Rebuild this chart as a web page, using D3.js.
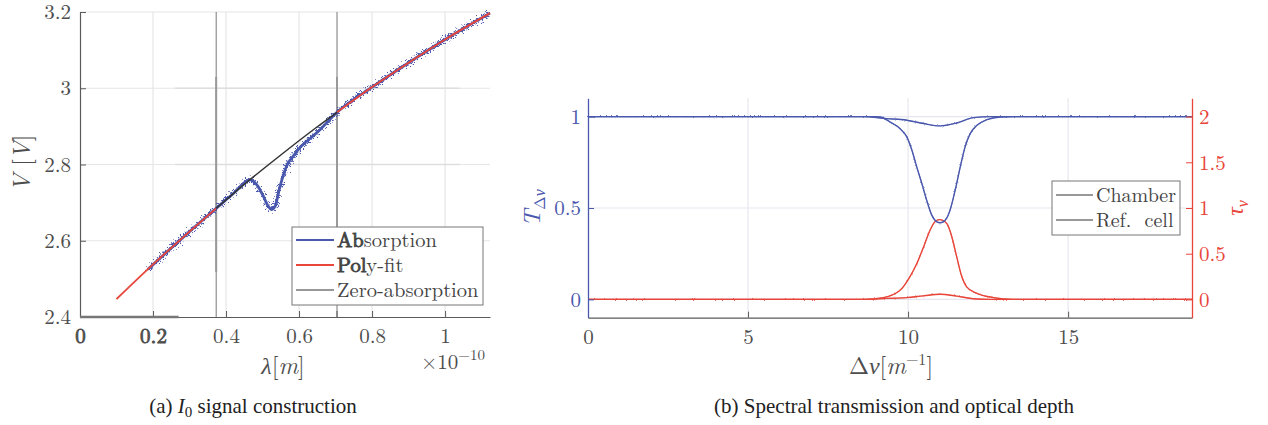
<!DOCTYPE html>
<html>
<head>
<meta charset="utf-8">
<style>
    body { margin: 0; background: #fff; }
    svg { font-family: 'Latin Modern Roman', 'Liberation Serif', serif; }
    .cap { font-family: 'Liberation Serif', 'Times New Roman', serif; }
</style>
</head>
<body>
<svg width="1268" height="425"></svg>

<script src="https://d3js.org/d3.v7.min.js"></script>
<script>
    // ---- panel (a): I0 signal construction ----
    // smooth polynomial fit
    let fitLambda = [0.10, 0.20, 0.30, 0.373, 0.45, 0.55, 0.65, 0.704, 0.80, 0.90, 1.00, 1.123]
    let fitV = [2.447, 2.538, 2.624, 2.685, 2.748, 2.825, 2.899, 2.937, 3.003, 3.067, 3.128, 3.197]

    // measured signal (blue), with the absorption dip
    let absLambda = [0.186, 0.25, 0.30, 0.373, 0.42, 0.466, 0.484, 0.502, 0.516, 0.525, 0.534, 0.548, 0.566, 0.584, 0.603, 0.63, 0.658, 0.704, 0.80, 0.90, 1.00, 1.123]
    let absV = [2.525, 2.581, 2.624, 2.685, 2.724, 2.760, 2.747, 2.717, 2.690, 2.682, 2.690, 2.743, 2.796, 2.822, 2.845, 2.868, 2.892, 2.937, 3.003, 3.067, 3.128, 3.197]

    // zero-absorption baseline between the two cut points
    let zeroLambda = [0.373, 0.45, 0.55, 0.65, 0.704]
    let zeroV = [2.685, 2.748, 2.825, 2.899, 2.937]

    let cutLambda = [0.373, 0.704]

    let leftXTicks = [0, 0.2, 0.4, 0.6, 0.8, 1]
    let leftXLabels = ["0", "0.2", "0.4", "0.6", "0.8", "1"]
    let leftYTicks = [2.4, 2.6, 2.8, 3, 3.2]
    let leftYLabels = ["2.4", "2.6", "2.8", "3", "3.2"]

    // ---- panel (b): spectral transmission and optical depth ----
    let chamberNu = [0, 8.5, 8.9, 9.125, 9.44, 9.75, 9.96, 10.12, 10.27, 10.43, 10.58, 10.74, 10.9, 11.0, 11.16, 11.31, 11.47, 11.63, 11.78, 11.94, 12.15, 12.46, 12.88, 13.3, 18.87]
    let chamberT = [1, 1, 1, 0.998, 0.97, 0.934, 0.889, 0.816, 0.725, 0.634, 0.543, 0.461, 0.424, 0.419, 0.433, 0.488, 0.597, 0.725, 0.834, 0.907, 0.952, 0.983, 0.998, 1, 1]

    let chamberTauNu = [0, 8.6, 9.23, 9.75, 10.06, 10.27, 10.48, 10.69, 10.84, 10.98, 11.21, 11.37, 11.52, 11.68, 11.83, 12.15, 12.67, 13.3, 18.87]
    let chamberTau = [0, 0, 0.02, 0.10, 0.25, 0.39, 0.57, 0.76, 0.85, 0.873, 0.83, 0.68, 0.465, 0.247, 0.137, 0.065, 0.02, 0, 0]

    let refNu = [0, 8.6, 9.33, 9.96, 10.48, 11.0, 11.52, 12.04, 12.6, 18.87]
    let refT = [1, 1, 0.989, 0.98, 0.962, 0.949, 0.965, 0.994, 1, 1]
    let refTau = [0, 0, 0.011, 0.02, 0.039, 0.056, 0.036, 0.008, 0, 0]

    let rightXTicks = [0, 5, 10, 15]
    let leftAxisTicks = [0, 0.5, 1]
    let rightAxisTicks = [0, 0.5, 1, 1.5, 2]

    let blue = "#4a58ad"
    let red = "#e8463a"
    let axisGray = "#5a5a5a"
    let textGray = "#4d4d4d"
    let lm = "'Latin Modern Roman', 'Liberation Serif', serif"

    let svg = d3.select("svg")

    // noise texture for the measured signals
    let defs = svg.append("defs")
    let filt = defs.append("filter").attr("id", "jit")
        .attr("x", "-5%").attr("y", "-5%").attr("width", "110%").attr("height", "110%")
    filt.append("feTurbulence").attr("type", "fractalNoise").attr("baseFrequency", "0.6 0.9")
        .attr("numOctaves", 2).attr("seed", 4).attr("result", "n")
    filt.append("feDisplacementMap").attr("in", "SourceGraphic").attr("in2", "n")
        .attr("scale", 15).attr("xChannelSelector", "R").attr("yChannelSelector", "G")

    let filt2 = defs.append("filter").attr("id", "jit2")
        .attr("x", "-2%").attr("y", "-20%").attr("width", "104%").attr("height", "140%")
    filt2.append("feTurbulence").attr("type", "fractalNoise").attr("baseFrequency", 0.9)
        .attr("numOctaves", 1).attr("seed", 7).attr("result", "n")
    filt2.append("feDisplacementMap").attr("in", "SourceGraphic").attr("in2", "n")
        .attr("scale", 3).attr("xChannelSelector", "R").attr("yChannelSelector", "G")

    // =================== panel (a) ===================
    let xA = d3.scaleLinear().domain([0, 1.123]).range([80, 490])
    let yA = d3.scaleLinear().domain([2.4, 3.2]).range([317, 12])

    let gA = svg.append("g")

    // grid
    gA.append("g").selectAll("line").data(leftXTicks.slice(1)).join("line")
        .attr("x1", d => xA(d)).attr("x2", d => xA(d))
        .attr("y1", yA(3.2)).attr("y2", yA(2.4))
        .style("stroke", "#e6e6e6").style("stroke-width", 1.2)
    gA.append("g").selectAll("line").data(leftYTicks.slice(1)).join("line")
        .attr("x1", xA(0)).attr("x2", xA(1.123))
        .attr("y1", d => yA(d)).attr("y2", d => yA(d))
        .style("stroke", "#e6e6e6").style("stroke-width", 1.2)
    // slightly darker overlapping grid pieces
    gA.append("g").selectAll("line").data([3, 2.8]).join("line")
        .attr("x1", xA(0.26)).attr("x2", xA(1.04))
        .attr("y1", d => yA(d)).attr("y2", d => yA(d))
        .style("stroke", "#dedede").style("stroke-width", 1.5)

    // cut markers
    gA.append("g").selectAll("line").data(cutLambda).join("line")
        .attr("x1", d => xA(d)).attr("x2", d => xA(d))
        .attr("y1", yA(3.2)).attr("y2", yA(2.4))
        .style("stroke", "#777").style("stroke-width", 1)
    gA.append("g").selectAll("line").data(cutLambda).join("line")
        .attr("x1", d => xA(d)).attr("x2", d => xA(d))
        .attr("y1", yA(3.03)).attr("y2", yA(2.518))
        .style("stroke", "#999").style("stroke-width", 2)

    let lineA = (xs, ys) => d3.line().curve(d3.curveMonotoneX)
        .x((d, i) => xA(xs[i])).y((d, i) => yA(ys[i]))(xs)

    // measured signal
    gA.append("path").attr("d", lineA(absLambda, absV))
        .style("fill", "none").style("stroke", blue).style("stroke-width", 2.8)
    gA.append("path").attr("d", lineA(absLambda, absV))
        .attr("filter", "url(#jit)")
        .style("fill", "none").style("stroke", blue).style("stroke-width", 2.4)

    // poly-fit, outside the absorption window
    let fitIn = fitLambda.map((l, i) => [l, fitV[i]])
    let fitLow = fitIn.filter(d => d[0] <= cutLambda[0])
    let fitHigh = fitIn.filter(d => d[0] >= cutLambda[1])
    let fitLine = d3.line().curve(d3.curveMonotoneX).x(d => xA(d[0])).y(d => yA(d[1]))
    ;[fitLow, fitHigh].forEach(seg => {
        gA.append("path").attr("d", fitLine(seg))
            .style("fill", "none").style("stroke", red).style("stroke-width", 1.8)
    })

    // zero-absorption
    gA.append("path").attr("d", lineA(zeroLambda, zeroV))
        .style("fill", "none").style("stroke", "#333").style("stroke-width", 1.5)

    // axes
    let axAx = gA.append("g").attr("transform", "translate(0,317)")
        .call(d3.axisBottom(xA).tickValues(leftXTicks).tickSize(-6).tickSizeOuter(0).tickPadding(11)
            .tickFormat((d, i) => leftXLabels[i]))
    let axAy = gA.append("g").attr("transform", "translate(80,0)")
        .call(d3.axisLeft(yA).tickValues(leftYTicks).tickSize(-6).tickSizeOuter(0).tickPadding(9)
            .tickFormat((d, i) => leftYLabels[i]))
    ;[axAx, axAy].forEach(a => {
        a.attr("font-family", null)
        a.select(".domain").style("stroke", axisGray).style("stroke-width", 1.2)
        a.selectAll(".tick line").style("stroke", axisGray)
        a.selectAll("text").style("font-family", lm)
            .style("font-size", "21px").style("fill", textGray)
    })
    axAx.selectAll(".tick line").filter(d => d === 0).remove()
    // doubled labels
    axAx.selectAll("text").filter(d => d === 0.2 || d === 0)
        .style("stroke", textGray).style("stroke-width", 0.8)
    // thick overlapping segment on the x axis
    gA.append("line").attr("x1", xA(0)).attr("x2", xA(0.27))
        .attr("y1", yA(2.4)).attr("y2", yA(2.4))
        .style("stroke", "#777").style("stroke-width", 2.5)
    // extra tick at the second cut
    gA.append("line").attr("x1", xA(cutLambda[1])).attr("x2", xA(cutLambda[1]))
        .attr("y1", yA(2.4)).attr("y2", yA(2.4) - 6).style("stroke", axisGray)

    // legend (a)
    let legA = gA.append("g").attr("transform", "translate(292,227)")
    legA.append("rect").attr("width", 191).attr("height", 78)
        .style("fill", "#fff").style("stroke", "#777").style("stroke-width", 1)
    let legItemsA = [
        { bold: "Ab", rest: "sorption", color: blue, w: 2 },
        { bold: "Pol", rest: "y-fit", color: red, w: 2 },
        { bold: "", rest: "Zero-absorption", color: "#333", w: 1.2 }
    ]
    legItemsA.forEach((it, i) => {
        let yy = 13 + i * 25
        legA.append("line").attr("x1", 4).attr("x2", 42).attr("y1", yy).attr("y2", yy)
            .style("stroke", it.color).style("stroke-width", it.w)
        let t = legA.append("text").attr("x", 45).attr("y", yy + 7)
            .style("font-size", "20.5px").style("fill", "#444")
        t.append("tspan").text(it.bold).style("stroke", "#444").style("stroke-width", 0.9)
        t.append("tspan").text(it.rest)
    })

    // axis labels (a)
    let vLab = svg.append("text").attr("transform", "translate(30,163) rotate(-90)")
        .attr("text-anchor", "middle").style("font-size", "24px").style("fill", textGray)
    vLab.append("tspan").text("V").style("font-style", "italic")
    vLab.append("tspan").text(" [")
    vLab.append("tspan").text("V").style("font-style", "italic")
    vLab.append("tspan").text("]")

    let lLab = svg.append("text").attr("x", 283).attr("y", 374)
        .attr("text-anchor", "middle").style("font-size", "24px").style("fill", textGray)
    lLab.append("tspan").text("λ").style("font-style", "italic")
    lLab.append("tspan").text("[")
    lLab.append("tspan").text("m").style("font-style", "italic")
    lLab.append("tspan").text("]")

    let expLab = svg.append("text").attr("x", 421).attr("y", 369)
        .style("font-size", "21px").style("fill", textGray)
    expLab.append("tspan").text("×10")
    expLab.append("tspan").text("−10").attr("dy", -9).style("font-size", "15px")

    let capA = svg.append("text").attr("class", "cap").attr("x", 253).attr("y", 413)
        .attr("text-anchor", "middle").style("font-size", "21px").style("fill", "#222")
    capA.append("tspan").text("(a) ")
    capA.append("tspan").text("I").style("font-style", "italic")
    capA.append("tspan").text("0").attr("dy", 4).style("font-size", "15px")
    capA.append("tspan").text(" signal construction").attr("dy", -4)

    // =================== panel (b) ===================
    let xB = d3.scaleLinear().domain([0, 18.87]).range([588, 1192])
    let yL = d3.scaleLinear().domain([-0.1, 1.1]).range([317.7, 98.3])
    let yR = d3.scaleLinear().domain([-0.2, 2.2]).range([317.7, 98.3])

    let gB = svg.append("g")

    gB.append("g").selectAll("line").data(rightXTicks.slice(1)).join("line")
        .attr("x1", d => xB(d)).attr("x2", d => xB(d))
        .attr("y1", yL(1.1)).attr("y2", yL(-0.1))
        .style("stroke", "#e8e8ee").style("stroke-width", 1.2)
    gB.append("g").selectAll("line").data(leftAxisTicks).join("line")
        .attr("x1", xB(0)).attr("x2", xB(18.87))
        .attr("y1", d => yL(d)).attr("y2", d => yL(d))
        .style("stroke", "#e6e6f0").style("stroke-width", 1.2)

    let lineB = (xs, ys, sc) => d3.line().curve(d3.curveMonotoneX)
        .x((d, i) => xB(xs[i])).y((d, i) => sc(ys[i]))(xs)

    let seriesB = [
        { xs: refNu, ys: refTau, sc: yR, c: red },
        { xs: chamberTauNu, ys: chamberTau, sc: yR, c: red },
        { xs: refNu, ys: refT, sc: yL, c: blue },
        { xs: chamberNu, ys: chamberT, sc: yL, c: blue }
    ]
    seriesB.forEach(s => {
        gB.append("path").attr("d", lineB(s.xs, s.ys, s.sc))
            .style("fill", "none").style("stroke", s.c).style("stroke-width", 1.4)
        gB.append("path").attr("d", lineB(s.xs, s.ys, s.sc))
            .attr("filter", "url(#jit2)").attr("opacity", 0.6)
            .style("fill", "none").style("stroke", s.c).style("stroke-width", 1)
    })

    let axBx = gB.append("g").attr("transform", "translate(0,317.7)")
        .call(d3.axisBottom(xB).tickValues(rightXTicks).tickSize(-6).tickSizeOuter(0).tickPadding(11))
    axBx.attr("font-family", null)
    axBx.select(".domain").style("stroke", axisGray).style("stroke-width", 1.2)
    axBx.selectAll(".tick line").style("stroke", axisGray)
    axBx.selectAll(".tick line").filter(d => d === 0).remove()
    axBx.selectAll("text").style("font-family", lm)
        .style("font-size", "21px").style("fill", textGray)

    let axBl = gB.append("g").attr("transform", "translate(588,0)")
        .call(d3.axisLeft(yL).tickValues(leftAxisTicks).tickSize(-6).tickSizeOuter(0).tickPadding(7)
            .tickFormat(d3.format("~g")))
    let axBr = gB.append("g").attr("transform", "translate(1192,0)")
        .call(d3.axisRight(yR).tickValues(rightAxisTicks).tickSize(-6).tickSizeOuter(0).tickPadding(7)
            .tickFormat(d3.format("~g")))
    ;[[axBl, blue], [axBr, red]].forEach(([a, c]) => {
        a.attr("font-family", null)
        a.select(".domain").style("stroke", c).style("stroke-width", 1.3)
        a.selectAll(".tick line").style("stroke", c)
        a.selectAll("text").style("font-family", lm)
            .style("font-size", "21px").style("fill", c)
    })

    // legend (b)
    let legB = gB.append("g").attr("transform", "translate(1052,181)")
    legB.append("rect").attr("width", 128).attr("height", 54)
        .style("fill", "#fff").style("stroke", "#777").style("stroke-width", 1)
    ;["Chamber", "Ref.  cell"].forEach((name, i) => {
        let yy = 14 + i * 25
        legB.append("line").attr("x1", 4).attr("x2", 41).attr("y1", yy).attr("y2", yy)
            .style("stroke", "#333").style("stroke-width", 1)
        legB.append("text").attr("x", 44).attr("y", yy + 7).text(name)
            .attr("xml:space", "preserve")
            .style("font-size", "20px").style("fill", "#444").style("white-space", "pre")
    })

    // axis labels (b)
    let tLab = svg.append("text").attr("transform", "translate(540,208) rotate(-90)")
        .attr("text-anchor", "middle").style("font-size", "24px").style("fill", blue)
    tLab.append("tspan").text("T").style("font-style", "italic")
    tLab.append("tspan").text("Δ").attr("dy", 5).style("font-size", "16px")
    tLab.append("tspan").text("ν").style("font-size", "16px").style("font-style", "italic")

    let tauLab = svg.append("text").attr("transform", "translate(1243,208) rotate(-90)")
        .attr("text-anchor", "middle").style("font-size", "24px").style("fill", red)
    tauLab.append("tspan").text("τ").style("font-style", "italic")
    tauLab.append("tspan").text("ν").attr("dy", 5).style("font-size", "16px").style("font-style", "italic")

    let nuLab = svg.append("text").attr("x", 891).attr("y", 374)
        .attr("text-anchor", "middle").style("font-size", "24px").style("fill", textGray)
    nuLab.append("tspan").text("Δ")
    nuLab.append("tspan").text("ν").style("font-style", "italic")
    nuLab.append("tspan").text("[")
    nuLab.append("tspan").text("m").style("font-style", "italic")
    nuLab.append("tspan").text("−1").attr("dy", -9).style("font-size", "16px")
    nuLab.append("tspan").text("]").attr("dy", 9)

    svg.append("text").attr("class", "cap").attr("x", 894).attr("y", 413)
        .attr("text-anchor", "middle").style("font-size", "21px").style("fill", "#222")
        .text("(b) Spectral transmission and optical depth")
</script>
</body>
</html>
